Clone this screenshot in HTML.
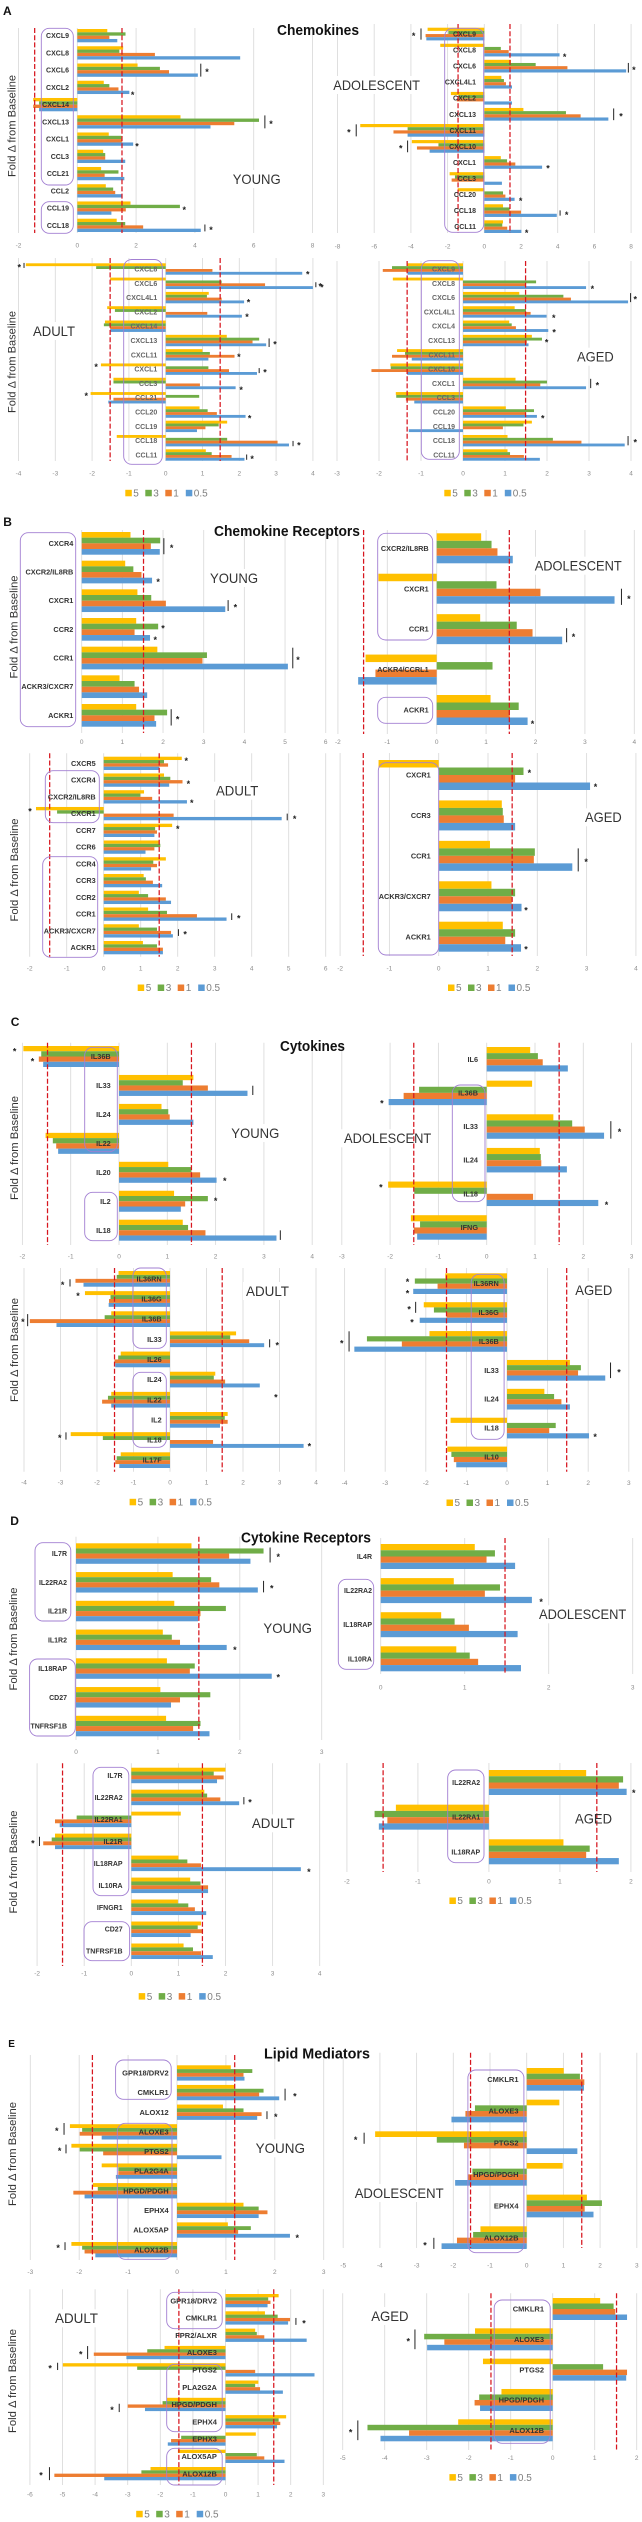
<!DOCTYPE html>
<html lang="en">
<head>
<meta charset="utf-8">
<title>Fold change from baseline by age group</title>
<style>
html,body{margin:0;padding:0;background:#fff;}
svg{display:block;font-family:"Liberation Sans",sans-serif;}
</style>
</head>
<body>
<svg id="figure" xmlns="http://www.w3.org/2000/svg" width="642" height="2522" viewBox="0 0 642 2522">
<rect width="642" height="2522" fill="#fff"/>
<g id="charts"></g>
<g font-weight="bold" fill="#111" font-size="12">
<text x="3" y="15">A</text>
<text x="3.3" y="526">B</text>
<text x="10.7" y="1026">C</text>
<text x="10.3" y="1525">D</text>
<text x="8.2" y="2047" font-size="10">E</text>
</g>
<g font-weight="bold" fill="#111" font-size="14.5">
<text x="277" y="35" textLength="82" lengthAdjust="spacingAndGlyphs">Chemokines</text>
<text x="214" y="536" textLength="146" lengthAdjust="spacingAndGlyphs">Chemokine Receptors</text>
<text x="280" y="1051" textLength="65" lengthAdjust="spacingAndGlyphs">Cytokines</text>
<text x="241" y="1542.5" textLength="130" lengthAdjust="spacingAndGlyphs">Cytokine Receptors</text>
<text x="264" y="2058.5" textLength="106" lengthAdjust="spacingAndGlyphs">Lipid Mediators</text>
</g>
<g fill="#333" font-size="11" text-anchor="middle">
<text transform="translate(15.5,126) rotate(-90)" textLength="102" lengthAdjust="spacingAndGlyphs">Fold Δ from Baseline</text>
<text transform="translate(15.5,362) rotate(-90)" textLength="102" lengthAdjust="spacingAndGlyphs">Fold Δ from Baseline</text>
<text transform="translate(17.5,627) rotate(-90)" textLength="103" lengthAdjust="spacingAndGlyphs">Fold Δ from Baseline</text>
<text transform="translate(18,870) rotate(-90)" textLength="103" lengthAdjust="spacingAndGlyphs">Fold Δ from Baseline</text>
<text transform="translate(18,1148) rotate(-90)" textLength="104" lengthAdjust="spacingAndGlyphs">Fold Δ from Baseline</text>
<text transform="translate(18,1350) rotate(-90)" textLength="104" lengthAdjust="spacingAndGlyphs">Fold Δ from Baseline</text>
<text transform="translate(17,1639) rotate(-90)" textLength="103" lengthAdjust="spacingAndGlyphs">Fold Δ from Baseline</text>
<text transform="translate(17,1862) rotate(-90)" textLength="103" lengthAdjust="spacingAndGlyphs">Fold Δ from Baseline</text>
<text transform="translate(16,2154) rotate(-90)" textLength="104" lengthAdjust="spacingAndGlyphs">Fold Δ from Baseline</text>
<text transform="translate(16,2381) rotate(-90)" textLength="104" lengthAdjust="spacingAndGlyphs">Fold Δ from Baseline</text>
</g>
</svg>
<script>
const seriesNames = ['5','3','1','0.5'];
const seriesColors = ['#FFC000','#70AD47','#ED7D31','#5B9BD5'];

/* A – Chemokines */
const aYoungGenes = ['CXCL9','CXCL8','CXCL6','CXCL2','CXCL14','CXCL13','CXCL1','CCL3','CCL21','CCL2','CCL19','CCL18'];
const aYoungS5 = [1.02,1.56,2.05,.9,-1.5,3.51,1.07,.88,.81,.97,1.81,1.34];
const aYoungS3 = [1.64,1.43,2.81,1.09,-1.3,6.18,1.5,.95,1.4,1.22,3.49,1.63];
const aYoungS1 = [1.09,2.64,3.12,1.4,-1.5,5.34,1.53,.95,.93,1.29,1.65,2.24];
const aYoungS05 = [1.36,5.54,4.1,1.77,-1.3,4.53,1.9,1.63,1.6,1.52,1.16,4.2];
const aYoungTicks = [-2,0,2,4,6,8];
const aYoungThresholds = [-1.45,1.52];
const aYoungStars = [[4.41,2],[1.88,3.33],[6.59,5],[2.03,6.3],[3.64,10],[4.55,11.15]];
const aYoungSigBars = [[4.2,2,.75],[6.38,5,.75],[4.34,11.15,.4]];

const aAdolGenes = ['CXCL9','CXCL8','CXCL6','CXCL4L1','CXCL2','CXCL13','CXCL11','CXCL10','CXCL1','CCL3','CCL20','CCL18','CCL11'];
const aAdolS5 = [-3.09,-2.4,1.45,.93,-1.82,2.13,-6.76,-3.95,.9,-1.89,-1.45,1.02,1.02];
const aAdolS3 = [-1.96,.9,2.8,1.07,-1.4,4.45,-4.18,-2.5,1.24,-1.6,1.02,1.38,.98];
const aAdolS1 = [-3.2,1.33,4.53,1.18,-1.5,5.25,-4.95,-3.67,1.69,-1.78,1.15,2,1.25];
const aAdolS05 = [-3.16,4.1,7.73,1.51,1.51,6.76,-4.18,-2.98,3.15,.96,1.65,3.95,2.02];
const aAdolTicks = [-8,-6,-4,-2,0,2,4,6,8];
const aAdolThresholds = [-1.43,1.4];
const aAdolStars = [[-3.85,0],[4.38,1.3],[8.15,2.1],[7.45,5],[-7.38,6],[-4.55,7],[3.47,8.25],[1.98,10.27],[4.49,11.15],[2.31,12.27]];
const aAdolSigBars = [[-3.45,0,.7],[7.85,2.1,.6],[7.05,5,.73],[-6.98,6,.75],[-4.18,7,.73],[4.13,11.15,.33]];

const aAdultGenes = ['CXCL8','CXCL6','CXCL4L1','CXCL2','CXCL14','CXCL13','CXCL11','CXCL1','CCL3','CCL21','CCL20','CCL19','CCL18','CCL11'];
const aAdultS5 = [-3.8,-1.51,1.17,-1.59,-1.65,1.66,1,-1.76,-1.42,-2.04,.92,1.67,-1.33,1.09];
const aAdultS3 = [-1.89,1.52,1.12,-1.38,-1.68,2.54,1.2,1.16,-1.42,.91,1.14,1.44,1.67,1.25];
const aAdultS1 = [1.27,2.7,1.52,1.13,-1.51,2.36,1.87,1.72,.93,-1.42,1.39,1.08,3.04,1.79];
const aAdultS05 = [3.71,4,2.13,2.07,-1.51,2.73,1.16,2.48,1.9,-1.56,2.17,.85,3.35,2.14];
const aAdultTicks = [-4,-3,-2,-1,0,1,2,3,4];
const aAdultThresholds = [-1.51,1.48];
const aAdultStars = [[-3.98,-.25],[3.86,.25],[4.2,1.1],[2.25,2.2],[2.21,3.2],[2.97,5.15],[1.99,6],[-1.89,6.7],[2.7,7.1],[2.05,8.3],[-2.16,8.75],[2.28,10.3],[3.62,12.2],[2.35,13.15]];
const aAdultSigBars = [[-3.85,-.25,.35],[4.08,1.1,.35],[2.81,5.15,.6],[2.54,7.1,.35],[3.46,12.2,.37],[2.2,13.15,.37]];

const aAgedGenes = ['CXCL9','CXCL8','CXCL6','CXCL4L1','CXCL4','CXCL13','CXCL11','CXCL10','CXCL1','CCL3','CCL20','CCL19','CCL18','CCL11'];
const aAgedS5 = [-1.32,-1.67,1.34,1.23,1.1,1.64,-1.57,-1.73,1.25,-1.6,1.02,1.64,1.06,1.06];
const aAgedS3 = [-1.69,1.74,2.39,1.5,1.16,1.88,-1.38,-1.72,2,-1.59,1.69,1.44,2.14,1.12];
const aAgedS1 = [-1.91,1.48,2.57,1.61,1.26,1.52,-1.69,-2.18,1.84,-1.36,1.5,.95,2.82,1.45];
const aAgedS05 = [-1.32,2.93,3.93,1.99,2.03,1.56,-1.22,-1.33,2.93,-1.16,1.76,-1.29,3.85,1.83];
const aAgedTicks = [-3,-2,-1,0,1,2,3,4];
const aAgedThresholds = [-1.33,1.49];
const aAgedStars = [[-3.36,1.15],[3.08,1.25],[4.1,2],[2.16,3.3],[2.17,4.3],[1.99,5],[3.2,8],[1.9,10.3],[4.1,12]];
const aAgedSigBars = [[3.99,2,.63],[3.04,8,.65],[3.93,12,.65]];

/* B – Chemokine receptors */
const bYoungGenes = ['CXCR4','CXCR2/IL8RB','CXCR1','CCR2','CCR1','ACKR3/CXCR7','ACKR1'];
const bYoungS5 = [1.2,1.07,1.37,1.34,1.86,.93,1.34];
const bYoungS3 = [1.93,1.27,1.71,1.88,3.08,1.3,2.1];
const bYoungS1 = [1.7,1.47,2.07,1.3,2.97,1.41,1.79];
const bYoungS05 = [1.92,1.73,3.53,1.68,5.07,1.61,1.83];
const bYoungTicks = [0,1,2,3,4,5,6];
const bYoungThresholds = [1.52];
const bYoungStars = [[2.21,.1],[1.88,1.28],[3.78,2.17],[2,2.9],[1.81,3.3],[5.32,4],[2.36,6.07]];
const bYoungSigBars = [[2.02,.1,.56],[3.6,2.17,.38],[5.19,4,.72],[2.2,6.07,.57]];

const bAdolGenes = ['CXCR2/IL8RB','CXCR1','CCR1','ACKR4/CCRL1','ACKR1'];
const bAdolS5 = [.9,-1.18,.88,-1.44,1.09];
const bAdolS3 = [1.11,1.21,1.62,1.13,1.66];
const bAdolS1 = [1.23,2.1,1.94,-1.24,1.48];
const bAdolS05 = [1.54,3.6,2.54,-1.59,1.84];
const bAdolTicks = [-2,-1,0,1,2,3,4];
const bAdolThresholds = [-1.48,1.47];
const bAdolStars = [[3.89,1.2],[2.77,2.15],[1.94,4.3]];
const bAdolSigBars = [[3.74,1.2,.4],[2.63,2.15,.35]];

const bAdultGenes = ['CXCR5','CXCR4','CXCR2/IL8RB','CXCR1','CCR7','CCR6','CCR4','CCR3','CCR2','CCR1','ACKR3/CXCR7','ACKR1'];
const bAdultS5 = [2.11,1.63,1.09,-1.83,1.85,1.49,1.68,1.08,.95,1.2,.95,1.06];
const bAdultS3 = [1.63,1.8,.99,-1.26,1.39,1.53,1.34,1.14,1.2,1.71,1.44,1.44];
const bAdultS1 = [1.74,2.13,1.31,1.89,1.44,1.37,1.44,1.33,1.68,2.52,1.82,1.6];
const bAdultS05 = [1.5,1.77,2.25,4.81,1.37,1.13,1.28,1.58,1.82,3.32,1.87,1.6];
const bAdultTicks = [-2,-1,0,1,2,3,4,5,6];
const bAdultThresholds = [-1.46,1.5];
const bAdultStars = [[2.23,-.25],[2.29,1.1],[2.38,2.25],[-1.99,2.75],[5.16,3.2],[2,3.8],[3.65,9.15],[2.2,10.1]];
const bAdultSigBars = [[4.96,3.2,.4],[3.46,9.15,.4],[2.02,10.1,.4]];

const bAgedGenes = ['CXCR1','CCR3','CCR1','ACKR3/CXCR7','ACKR1'];
const bAgedS5 = [-1.22,1.28,1.04,1.07,1.3];
const bAgedS3 = [1.72,1.3,1.95,1.55,1.55];
const bAgedS1 = [1.55,1.32,1.93,1.48,1.35];
const bAgedS05 = [3.07,1.55,2.71,1.68,1.67];
const bAgedTicks = [-2,-1,0,1,2,3,4];
const bAgedThresholds = [-1.53,1.49];
const bAgedStars = [[1.84,-.1],[3.18,.25],[2.99,2.1],[1.77,3.3],[1.77,4.27]];
const bAgedSigBars = [[2.83,2.1,.57]];

/* C – Cytokines */
const cYoungGenes = ['IL36B','IL33','IL24','IL22','IL20','IL2','IL18'];
const cYoungS5 = [-1.98,1.54,.88,-1.52,1.02,1.14,1.32];
const cYoungS3 = [-1.61,1.32,1.02,-1.37,1.5,1.84,1.43];
const cYoungS1 = [-1.66,1.84,1.05,-1.3,1.68,1.37,1.79];
const cYoungS05 = [-1.57,2.66,1.54,-1.26,2.02,1.28,3.26];
const cYoungTicks = [-2,-1,0,1,2,3,4];
const cYoungThresholds = [-1.48,1.5];
const cYoungStars = [[-2.16,-.25],[-1.79,.1],[2.19,4.23],[2,4.92]];
const cYoungSigBars = [[2.77,1.17,.32],[3.34,6.17,.33]];

const cAdolGenes = ['IL6','IL36B','IL33','IL24','IL18','IFNG'];
const cAdolS5 = [.9,.94,1.38,1.1,-2.04,-1.57];
const cAdolS3 = [1.06,-1.4,1.77,1.12,-1.5,-1.38];
const cAdolS1 = [1.16,-1.72,2.03,1.13,.96,-1.51];
const cAdolS05 = [1.68,-2.03,2.43,1.66,2.31,-1.44];
const cAdolTicks = [-3,-2,-1,0,1,2,3];
const cAdolThresholds = [-1.51,1.5];
const cAdolStars = [[-2.17,1.25],[2.75,2.1],[-2.19,3.75],[2.48,4.28]];
const cAdolSigBars = [[2.57,2.1,.52]];

const cAdultGenes = ['IL36RN','IL36G','IL36B','IL33','IL26','IL24','IL22','IL2','IL18','IL17F'];
const cAdultS5 = [-1.41,-2.33,-1.61,1.81,-1.35,1.24,-1.61,1.58,-2.72,-1.35];
const cAdultS3 = [-1.46,-1.63,-1.79,1.65,-1.42,1.2,-1.7,1.5,-1.84,-1.46];
const cAdultS1 = [-2.59,-1.67,-3.84,2.17,-1.52,1.51,-1.86,1.58,1.18,-1.5];
const cAdultS05 = [-2.37,-1.68,-3.11,2.58,-1.5,2.46,-1.61,1.37,3.66,-1.39];
const cAdultTicks = [-4,-3,-2,-1,0,1,2,3,4];
const cAdultThresholds = [-1.52,1.43];
const cAdultStars = [[-2.94,.2],[-2.52,.75],[-4.03,2.05],[2.94,3.2],[2.9,5.8],[-3.02,7.8],[3.82,8.23]];
const cAdultSigBars = [[-2.74,.2,.36],[-3.9,2.05,.6],[2.73,3.2,.4],[-2.85,7.8,.36]];

const cAgedGenes = ['IL36RN','IL36G','IL36B','IL33','IL24','IL18','IL10'];
const cAgedS5 = [-1.52,-2.05,-1.91,1.55,.92,-1.39,-1.47];
const cAgedS3 = [-2.27,-1.8,-3.45,1.82,1.16,1.2,-1.37];
const cAgedS1 = [-1.71,-1.49,-2.59,1.75,1.34,1.04,-1.31];
const cAgedS05 = [-2.31,-2.15,-3.76,2.42,1.55,2.02,-1.25];
const cAgedTicks = [-4,-3,-2,-1,0,1,2,3];
const cAgedThresholds = [-1.49,1.47];
const cAgedStars = [[-2.45,-.12],[-2.45,.27],[-2.41,.82],[-2.34,1.28],[-4.07,2],[2.76,3],[2.17,5.24]];
const cAgedSigBars = [[-2.25,.82,.38],[-3.89,2,.7],[2.55,3,.54]];

/* D – Cytokine receptors */
const dYoungGenes = ['IL7R','IL22RA2','IL21R','IL1R2','IL18RAP','CD27','TNFRSF1B'];
const dYoungS5 = [1.41,1.18,1.2,1.06,1.11,1.03,1.1];
const dYoungS3 = [2.29,1.65,1.83,1.17,1.45,1.64,1.52];
const dYoungS1 = [1.87,1.75,1.52,1.27,1.39,1.27,1.43];
const dYoungS05 = [2.13,2.22,1.49,1.84,2.39,1.16,1.63];
const dYoungTicks = [0,1,2,3];
const dYoungThresholds = [1.5];
const dYoungStars = [[2.47,.05],[2.39,1.15],[1.94,3.28],[2.47,4.25]];
const dYoungSigBars = [[2.37,.05,.52],[2.29,1.15,.4]];

const dAdolGenes = ['IL4R','IL22RA2','IL18RAP','IL10RA'];
const dAdolS5 = [1.12,.87,.72,.9];
const dAdolS3 = [1.36,1.42,.88,1.06];
const dAdolS1 = [1.26,1.24,1.05,1.16];
const dAdolS05 = [1.6,1.8,1.63,1.67];
const dAdolTicks = [0,1,2,3];
const dAdolThresholds = [1.48];
const dAdolStars = [[1.91,1.28]];
const dAdolSigBars = [];

const dAdultGenes = ['IL7R','IL22RA2','IL22RA1','IL21R','IL18RAP','IL10RA','IFNGR1','CD27','TNFRSF1B'];
const dAdultS5 = [2,1.55,1.05,-1.62,1,1.25,.99,1.48,1.11];
const dAdultS3 = [1.75,1.61,-1.16,-1.69,1.19,1.47,1.21,1.41,1.31];
const dAdultS1 = [1.96,1.89,-1.62,-1.87,1.48,1.63,1.35,1.5,1.48];
const dAdultS05 = [1.82,2.29,-1.52,-1.62,3.6,1.63,1.59,1.26,1.73];
const dAdultTicks = [-2,-1,0,1,2,3,4];
const dAdultThresholds = [-1.46,1.51];
const dAdultStars = [[2.52,1.15],[-2.09,3],[3.77,4.3]];
const dAdultSigBars = [[2.39,1.15,.33],[-1.95,3,.42]];

const dAgedGenes = ['IL22RA2','IL22RA1','IL18RAP'];
const dAgedS5 = [1.37,-1.31,1.05];
const dAgedS3 = [1.89,-1.61,1.42];
const dAgedS1 = [1.83,-1.43,1.37];
const dAgedS05 = [1.94,-1.55,1.83];
const dAgedTicks = [-2,-1,0,1,2];
const dAgedThresholds = [-1.49,1.52];
const dAgedStars = [[2.04,.25]];
const dAgedSigBars = [];

/* E – Lipid mediators */
const eYoungGenes = ['GPR18/DRV2','CMKLR1','ALOX12','ALOXE3','PTGS2','PLA2G4A','HPGD/PDGH','EPHX4','ALOX5AP','ALOX12B'];
const eYoungS5 = [1.1,1.18,.94,-2.19,-2.16,-1.54,-1.72,1.36,1.04,-2.16];
const eYoungS3 = [1.54,1.77,1.36,-1.94,-1.99,-1.2,-1.62,1.67,1.51,-1.94];
const eYoungS1 = [1.36,1.68,1.73,-1.99,-1.51,-1.2,-2.12,1.85,1.25,-1.89];
const eYoungS05 = [1.38,2.09,1.64,-1.54,.91,-1.25,-1.89,1.67,2.31,-1.67];
const eYoungTicks = [-3,-2,-1,0,1,2,3];
const eYoungThresholds = [-1.73,1.18];
const eYoungStars = [[2.41,1.1],[2.02,2.15],[-2.46,2.85],[-2.4,3.87],[2.46,8.3],[-2.43,8.82]];
const eYoungSigBars = [[2.21,1.1,.6],[1.84,2.15,.4],[-2.31,2.85,.6],[-2.27,3.87,.45],[-2.29,8.82,.4]];

const eAdolGenes = ['CMKLR1','ALOXE3','PTGS2','HPGD/PDGH','EPHX4','ALOX12B'];
const eAdolS5 = [1.01,.89,-4.13,.98,1.64,-1.26];
const eAdolS3 = [1.45,-1.41,-2.45,-1.48,2.05,-1.46];
const eAdolS1 = [1.57,-1.67,-1.71,-1.6,1.58,-1.9];
const eAdolS05 = [1.56,-2.05,1.38,-1.95,1.82,-2.32];
const eAdolTicks = [-5,-4,-3,-2,-1,0,1,2,3];
const eAdolThresholds = [-1.53,1.5];
const eAdolStars = [[-4.66,1.86],[-2.77,5.18]];
const eAdolSigBars = [[-4.43,1.86,.35],[-2.53,5.18,.35]];

const eAdultGenes = ['GPR18/DRV2','CMKLR1','FPR2/ALXR','ALOXE3','PTGS2','PLA2G2A','HPGD/PDGH','EPHX4','EPHX3','ALOX5AP','ALOX12B'];
const eAdultS5 = [1.63,1.21,.91,-1.87,-4.99,1.01,-1.8,1.86,.93,-1.46,-2.3];
const eAdultS3 = [1.31,1.6,.96,-2.4,-2.71,.91,-1.93,1.63,-1.36,.96,-2.58];
const eAdultS1 = [1.38,1.98,1.19,-4.04,.91,1.06,-3,1.68,-1.67,1.19,-5.25];
const eAdultS05 = [1.29,1.92,2.49,-3.04,2.73,1.76,-2.47,1.58,-1.77,1.81,-3.72];
const eAdultTicks = [-6,-5,-4,-3,-2,-1,0,1,2,3];
const eAdultThresholds = [-1.43,1.48];
const eAdultStars = [[2.41,1.2],[-4.44,3],[-5.38,3.8],[-3.48,6.2],[-5.66,10]];
const eAdultSigBars = [[2.16,1.2,.4],[-4.23,3,.75],[-5.15,3.8,.42],[-3.26,6.2,.48],[-5.4,10,.75]];

const eAgedGenes = ['CMKLR1','ALOXE3','PTGS2','HPGD/PDGH','ALOX12B'];
const eAgedS5 = [1.13,-1.85,-1.66,-1.22,-2.25];
const eAgedS3 = [1.45,-3.06,1.2,-1.75,-4.41];
const eAgedS1 = [1.49,-2.58,1.77,-1.86,-3.42];
const eAgedS05 = [1.77,-2.99,1.75,-1.73,-4.1];
const eAgedTicks = [-5,-4,-3,-2,-1,0,1,2];
const eAgedThresholds = [-1.47,1.52];
const eAgedStars = [[-3.44,1],[-4.81,4]];
const eAgedSigBars = [[-3.28,1,.65],[-4.64,4,.65]];

/* Layout (separate from data) */
const panels = [
 {id:'a-young',genes:aYoungGenes,series:[aYoungS5,aYoungS3,aYoungS1,aYoungS05],ticks:aYoungTicks,thresholds:aYoungThresholds,stars:aYoungStars,sigBars:aYoungSigBars,zero:77.3,unit:29.4,top:29,bottom:232,gH:13.3,gridTop:28,gridBot:233,tickY:245,labelRight:69,labelSize:7,labelFill:'#333',boxes:[[41.3,28.3,73.3,185],[41.3,201.7,73.3,233.3]],age:['YOUNG',232.7,280.7,179]},
 {id:'a-adolescent',genes:aAdolGenes,series:[aAdolS5,aAdolS3,aAdolS1,aAdolS05],ticks:aAdolTicks,thresholds:aAdolThresholds,stars:aAdolStars,sigBars:aAdolSigBars,zero:484.3,unit:18.35,top:27.7,bottom:233,gH:12.7,gridTop:24,gridBot:233,tickY:246,labelRight:476,labelSize:7,labelFill:'#333',boxes:[[444.7,28.3,483.7,232.3]],age:['ADOLESCENT',333.3,420,85]},
 {id:'a-adult',genes:aAdultGenes,series:[aAdultS5,aAdultS3,aAdultS1,aAdultS05],ticks:aAdultTicks,thresholds:aAdultThresholds,stars:aAdultStars,sigBars:aAdultSigBars,zero:165.7,unit:36.8,top:263.3,bottom:460.7,gH:11.4,gridTop:258,gridBot:461,tickY:473,labelRight:157.3,labelSize:7,labelFill:'#666',boxes:[[123.7,259.5,162.3,464.3]],age:['ADULT',33,75,331]},
 {id:'a-aged',genes:aAgedGenes,series:[aAgedS5,aAgedS3,aAgedS1,aAgedS05],ticks:aAgedTicks,thresholds:aAgedThresholds,stars:aAgedStars,sigBars:aAgedSigBars,zero:463,unit:42,top:263.3,bottom:460.7,gH:11.4,gridTop:261,gridBot:461,tickY:473,labelRight:455,labelSize:7,labelFill:'#666',boxes:[[421.3,260.7,459.3,459.3]],age:['AGED',577,613.7,356.7]},
 {id:'b-young',genes:bYoungGenes,series:[bYoungS5,bYoungS3,bYoungS1,bYoungS05],ticks:bYoungTicks,thresholds:bYoungThresholds,stars:bYoungStars,sigBars:bYoungSigBars,zero:81.7,unit:40.67,top:532,bottom:726.7,gH:22.7,gridTop:530,gridBot:733,tickY:741.7,labelRight:73.3,labelSize:7.3,labelFill:'#333',boxes:[[20.3,532.7,75.7,726.7]],age:['YOUNG',210,258,578]},
 {id:'b-adolescent',genes:bAdolGenes,series:[bAdolS5,bAdolS3,bAdolS1,bAdolS05],ticks:bAdolTicks,thresholds:bAdolThresholds,stars:bAdolStars,sigBars:bAdolSigBars,zero:436.7,unit:49.4,top:533.3,bottom:725,gH:30,gridTop:530,gridBot:734,tickY:741.7,labelRight:428.7,labelSize:7.3,labelFill:'#333',boxes:[[377.7,533.3,432.7,640],[377.7,697.3,432.7,723.3]],age:['ADOLESCENT',534.7,621.7,565.7]},
 {id:'b-adult',genes:bAdultGenes,series:[bAdultS5,bAdultS3,bAdultS1,bAdultS05],ticks:bAdultTicks,thresholds:bAdultThresholds,stars:bAdultStars,sigBars:bAdultSigBars,zero:103.7,unit:37,top:756.7,bottom:954.3,gH:13.3,gridTop:753.3,gridBot:956.7,tickY:968.3,labelRight:95.7,labelSize:7.3,labelFill:'#333',boxes:[[45.3,770.7,99.3,822.7],[42.7,856.7,97.7,957.3]],age:['ADULT',216,258.3,790.7]},
 {id:'b-aged',genes:bAgedGenes,series:[bAgedS5,bAgedS3,bAgedS1,bAgedS05],ticks:bAgedTicks,thresholds:bAgedThresholds,stars:bAgedStars,sigBars:bAgedSigBars,zero:438.7,unit:49.3,top:760,bottom:951.7,gH:30,gridTop:753,gridBot:956,tickY:968.3,labelRight:430.7,labelSize:7.3,labelFill:'#333',boxes:[[378.3,762.7,438.7,955]],age:['AGED',585,621.7,817.3]},
 {id:'c-young',genes:cYoungGenes,series:[cYoungS5,cYoungS3,cYoungS1,cYoungS05],ticks:cYoungTicks,thresholds:cYoungThresholds,stars:cYoungStars,sigBars:cYoungSigBars,zero:119,unit:48.3,top:1046,bottom:1240.7,gH:21,gridTop:1042.7,gridBot:1245,tickY:1256,labelRight:110.7,labelSize:7.3,labelFill:'#333',boxes:[[84.7,1047.3,117.3,1151.7],[84.7,1192.3,117.3,1240.7]],age:['YOUNG',231.3,279.3,1133]},
 {id:'c-adolescent',genes:cAdolGenes,series:[cAdolS5,cAdolS3,cAdolS1,cAdolS05],ticks:cAdolTicks,thresholds:cAdolThresholds,stars:cAdolStars,sigBars:cAdolSigBars,zero:486.7,unit:48.3,top:1047,bottom:1239.7,gH:24.5,gridTop:1042.7,gridBot:1245,tickY:1256,labelRight:478,labelSize:7.3,labelFill:'#333',boxes:[[452.3,1085,485,1201.7]],age:['ADOLESCENT',344,431.3,1138.3]},
 {id:'c-adult',genes:cAdultGenes,series:[cAdultS5,cAdultS3,cAdultS1,cAdultS05],ticks:cAdultTicks,thresholds:cAdultThresholds,stars:cAdultStars,sigBars:cAdultSigBars,zero:170,unit:36.5,top:1271,bottom:1468,gH:15.7,gridTop:1268,gridBot:1471.7,tickY:1482,labelRight:161.7,labelSize:7.3,labelFill:'#333',boxes:[[132.9,1268,166.3,1348.3],[132.9,1372.3,166.3,1447.3]],age:['ADULT',246,289,1291]},
 {id:'c-aged',genes:cAgedGenes,series:[cAgedS5,cAgedS3,cAgedS1,cAgedS05],ticks:cAgedTicks,thresholds:cAgedThresholds,stars:cAgedStars,sigBars:cAgedSigBars,zero:507,unit:40.6,top:1273.3,bottom:1467.3,gH:20.7,gridTop:1268,gridBot:1471.7,tickY:1482.5,labelRight:498.8,labelSize:7.3,labelFill:'#333',boxes:[[471.2,1274.3,504.1,1439.3]],age:['AGED',575.3,612.3,1290]},
 {id:'d-young',genes:dYoungGenes,series:[dYoungS5,dYoungS3,dYoungS1,dYoungS05],ticks:dYoungTicks,thresholds:dYoungThresholds,stars:dYoungStars,sigBars:dYoungSigBars,zero:76,unit:81.9,top:1543.3,bottom:1736.3,gH:20.5,gridTop:1536.7,gridBot:1740,tickY:1751.7,labelRight:67,labelSize:7,labelFill:'#333',boxes:[[35,1542.7,70.8,1621],[29.6,1659,75.3,1736]],age:['YOUNG',263.4,312,1628]},
 {id:'d-adolescent',genes:dAdolGenes,series:[dAdolS5,dAdolS3,dAdolS1,dAdolS05],ticks:dAdolTicks,thresholds:dAdolThresholds,stars:dAdolStars,sigBars:dAdolSigBars,zero:380.7,unit:84,top:1544,bottom:1671.3,gH:25,gridTop:1538,gridBot:1674,tickY:1687.3,labelRight:372,labelSize:7,labelFill:'#333',boxes:[[338.3,1579.3,373.7,1669.3]],age:['ADOLESCENT',539,626.3,1614.3]},
 {id:'d-adult',genes:dAdultGenes,series:[dAdultS5,dAdultS3,dAdultS1,dAdultS05],ticks:dAdultTicks,thresholds:dAdultThresholds,stars:dAdultStars,sigBars:dAdultSigBars,zero:131.3,unit:47.1,top:1767.7,bottom:1959,gH:15.5,gridTop:1763.3,gridBot:1966,tickY:1973.3,labelRight:122.6,labelSize:7,labelFill:'#333',boxes:[[93,1767.3,128.8,1895.7],[84,1921.7,129.6,1960.7]],age:['ADULT',251.9,294.7,1823.3]},
 {id:'d-aged',genes:dAgedGenes,series:[dAgedS5,dAgedS3,dAgedS1,dAgedS05],ticks:dAgedTicks,thresholds:dAgedThresholds,stars:dAgedStars,sigBars:dAgedSigBars,zero:488.9,unit:71,top:1770,bottom:1864.3,gH:25,gridTop:1763,gridBot:1872,tickY:1881,labelRight:480.2,labelSize:7,labelFill:'#333',boxes:[[447.7,1770,484,1862.7]],age:['AGED',575,612,1818.7]},
 {id:'e-young',genes:eYoungGenes,series:[eYoungS5,eYoungS3,eYoungS1,eYoungS05],ticks:eYoungTicks,thresholds:eYoungThresholds,stars:eYoungStars,sigBars:eYoungSigBars,zero:177,unit:48.9,top:2065.3,bottom:2257.3,gH:15.3,gridTop:2055,gridBot:2260,tickY:2271.7,labelRight:168.7,labelSize:7.5,labelFill:'#333',boxes:[[115.6,2060,171.2,2099.3],[117.3,2123.3,172,2259.3]],age:['YOUNG',255.6,305,2148.3]},
 {id:'e-adolescent',genes:eAdolGenes,series:[eAdolS5,eAdolS3,eAdolS1,eAdolS05],ticks:eAdolTicks,thresholds:eAdolThresholds,stars:eAdolStars,sigBars:eAdolSigBars,zero:526.7,unit:36.7,top:2068,bottom:2249,gH:22.7,gridTop:2052.7,gridBot:2248,tickY:2265.3,labelRight:518.5,labelSize:7.5,labelFill:'#333',boxes:[[467.9,2070,523.9,2252.7]],age:['ADOLESCENT',354.7,443.6,2193]},
 {id:'e-adult',genes:eAdultGenes,series:[eAdultS5,eAdultS3,eAdultS1,eAdultS05],ticks:eAdultTicks,thresholds:eAdultThresholds,stars:eAdultStars,sigBars:eAdultSigBars,zero:225.5,unit:32.6,top:2294,bottom:2480.3,gH:13.3,gridTop:2289.3,gridBot:2485,tickY:2494,labelRight:216.9,labelSize:7.5,labelFill:'#333',boxes:[[166.7,2292.3,222.2,2328.7],[166.7,2364.3,222.2,2431.7],[166.7,2448.3,222.2,2485]],age:['ADULT',55,98,2318.3]},
 {id:'e-aged',genes:eAgedGenes,series:[eAgedS5,eAgedS3,eAgedS1,eAgedS05],ticks:eAgedTicks,thresholds:eAgedThresholds,stars:eAgedStars,sigBars:eAgedSigBars,zero:552.7,unit:42,top:2298,bottom:2441.3,gH:22,gridTop:2293.3,gridBot:2450,tickY:2457.7,labelRight:544,labelSize:7.5,labelFill:'#333',boxes:[[494.2,2300,550.2,2443.3]],age:['AGED',371.2,408.6,2316]}
];
const legendPanels = ['a-adult','a-aged','b-adult','b-aged','c-adult','c-aged','d-adult','d-aged','e-adult','e-aged'];
const legendAnchors = {'a-adult':[125.3,493],'a-aged':[444.3,493],'b-adult':[137.7,987.7],'b-aged':[448,987.7],'c-adult':[129.6,1502],'c-aged':[446.5,1502.7],'d-adult':[138.7,1996.3],'d-aged':[449.4,1900.7],'e-adult':[136.2,2514],'e-aged':[449.4,2477.3]};
const legendOffsets = [0,20,40,60.5];

const NS = 'http://www.w3.org/2000/svg';
const root = document.getElementById('charts');
function mk(tag, attrs, parent, txt){
  const el = document.createElementNS(NS, tag);
  for(const k in attrs){ el.setAttribute(k, attrs[k]); }
  if(txt !== undefined){ el.textContent = txt; }
  parent.appendChild(el);
  return el;
}

panels.forEach(function(p){
  const g = mk('g', {}, root);
  
  
  const xS = function(v){ return p.zero + v * p.unit; };
  const step = (p.bottom - p.top - p.gH) / (p.genes.length - 1);
  const rowC = function(r){ return p.top + p.gH / 2 + r * step; };

  p.ticks.forEach(function(t){
    const line = mk('line', {x1:xS(t), x2:xS(t), y1:p.gridTop, y2:p.gridBot, stroke:'#dcdcdc', 'stroke-width':0.9}, g);
    
    
    const tick = mk('text', {x:xS(t), y:p.tickY, dy:'0.35em', 'text-anchor':'middle', 'font-size':6.5, fill:'#8c8c8c'}, g, String(t));
    
    
  });

  const bg = mk('rect', {x:p.age[1]-3, y:p.age[3]-9, width:p.age[2]-p.age[1]+6, height:18, fill:'#fff'}, g);
  
  

  const barH = p.gH / 4;
  p.genes.forEach(function(gene, i){
    p.series.forEach(function(vals, s){
      const v = vals[i];
      const x = Math.min(xS(0), xS(v));
      const y = rowC(i) - p.gH / 2 + s * barH;
      const bar = mk('rect', {x:x, y:y, width:Math.abs(xS(v) - xS(0)), height:barH, fill:seriesColors[s]}, g);
      
      
    });
  });

  p.thresholds.forEach(function(t){
    const line = mk('line', {x1:xS(t), x2:xS(t), y1:p.gridTop, y2:p.gridBot, stroke:'#d7161f', 'stroke-width':1.25, 'stroke-dasharray':'5 2.2'}, g);
    
    
  });

  p.boxes.forEach(function(b){
    const box = mk('rect', {x:b[0], y:b[1], width:b[2]-b[0], height:b[3]-b[1], rx:8, ry:8, fill:'none', stroke:'#a27fd2', 'stroke-width':0.9}, g);
    
    
  });

  p.genes.forEach(function(gene, i){
    const lab = mk('text', {x:p.labelRight, y:rowC(i), dy:'0.35em', 'text-anchor':'end', 'font-size':p.labelSize, 'font-weight':'bold', fill:p.labelFill}, g, gene);
    
    
  });

  p.sigBars.forEach(function(b){
    const cy = rowC(b[1]);
    const half = b[2] * step / 2;
    const mark = mk('line', {x1:xS(b[0]), x2:xS(b[0]), y1:cy-half, y2:cy+half, stroke:'#222', 'stroke-width':1}, g);
    
    
  });
  p.stars.forEach(function(st){
    const star = mk('text', {x:xS(st[0]), y:rowC(st[1])+5, 'text-anchor':'middle', 'font-size':9, 'font-weight':'bold', fill:'#222'}, g, '*');
    
    
  });

  const age = mk('text', {x:p.age[1], y:p.age[3], dy:'0.35em', 'font-size':14, fill:'#333', textLength:p.age[2]-p.age[1], lengthAdjust:'spacingAndGlyphs'}, g, p.age[0]);
  
  
});

legendPanels.forEach(function(id){
  const a = legendAnchors[id];
  const lg = mk('g', {}, root);
  
  
  seriesNames.forEach(function(name, s){
    const sw = mk('rect', {x:a[0]+legendOffsets[s], y:a[1]-3.2, width:6.5, height:6.5, fill:seriesColors[s]}, lg);
    
    
    const tx = mk('text', {x:a[0]+legendOffsets[s]+8, y:a[1], dy:'0.35em', 'font-size':10, fill:'#7f7f7f'}, lg, name);
    
    
  });
});
</script>
</body>
</html>
